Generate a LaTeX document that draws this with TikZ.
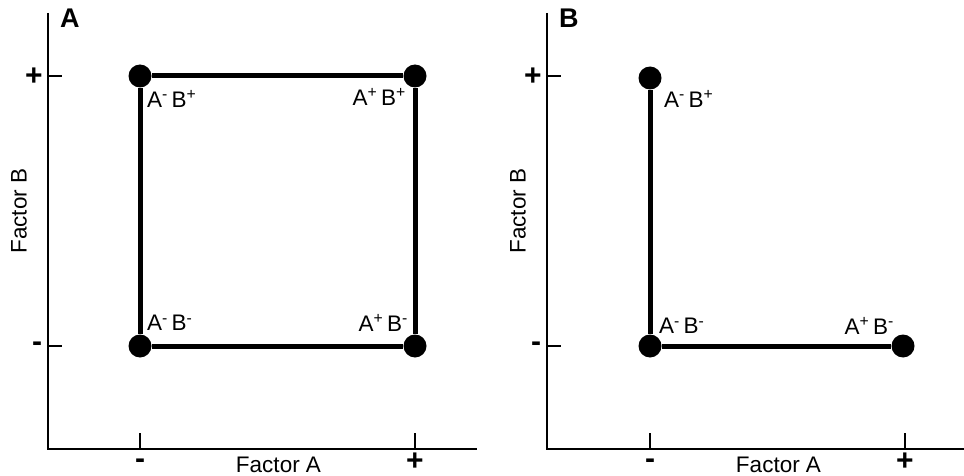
\documentclass[tikz,border=0pt]{standalone}
\usepackage{fontspec}
\setmainfont{Liberation Sans}
\usetikzlibrary{positioning}
\definecolor{ink}{HTML}{000000}
\tikzset{
  axis/.style={draw=ink,line width=2pt},
  link/.style={draw=ink,line width=5pt},
  pt/.style={circle,fill=ink,minimum size=23pt,inner sep=0pt},
  lab/.style={font=\fontsize{22.5}{25}\selectfont,text=ink,inner sep=0pt},
  sgn/.style={font=\bfseries\fontsize{30}{32}\selectfont,text=ink,inner sep=0pt},
  panel/.style={font=\bfseries\fontsize{27}{30}\selectfont,text=ink,inner sep=0pt},
}
\newcommand{\lvl}[2]{A\textsuperscript{#1}\,B\textsuperscript{#2}}

\begin{document}
\begin{tikzpicture}[x=1pt,y=-1pt]
  \useasboundingbox (0,0) rectangle (964,476);
  % axes, panel A and panel B
  \foreach \p/\ax/\xe/\xl/\xh in {A/48/477/140/415,B/547/964/650/905} {
    \coordinate (top\p) at (\ax,13);
    \coordinate (end\p) at (\xe,449);
    \draw[axis] (top\p) |- (end\p);
    \draw[axis] (\ax,76) -- ++(14,0);
    \draw[axis] (\ax,346) -- ++(14,0);
    \draw[axis] (\xl,449) -- ++(0,-16);
    \draw[axis] (\xh,449) -- ++(0,-16);
    \node[sgn] (yp\p) at (\ax-14,77) {+};
    \node[sgn] (ym\p) at (\ax-11,347) {-};
    \node[sgn] (xm\p) at (\xl,464) {-};
    \node[sgn] (xp\p) at (\xh,462) {+};
    \node[lab] (fa\p) at ({(\xl+\xh)/2+1},465) {Factor A};
    \node[lab,rotate=90] (fb\p) at (\ax-29,211) {Factor B};
    \node[panel,anchor=north west] (lt\p) at (\ax+12,9) {\p};
  }
  % panel A: full square
  \node[pt] (amb) at (140,346) {};
  \node[pt] (apb) at (415,346) {};
  \node[pt] (amp) at (140,76) {};
  \node[pt] (app) at (415,76) {};
  \draw[link] (amb) -- (apb) -- (app) -- (amp) -- (amb);
  \node[lab,anchor=west] at (147,99) {\lvl{-}{+}};
  \node[lab,anchor=east] at (406,97) {\lvl{+}{+}};
  \node[lab,anchor=west] at (147,323) {\lvl{-}{-}};
  \node[lab,anchor=east] at (408,323) {\lvl{+}{-}};
  % panel B: one factor at a time
  \node[pt] (bmb) at (650,346) {};
  \node[pt] (bpb) at (903,346) {};
  \node[pt] (bmp) at (650,78) {};
  \draw[link] (bmp) -- (bmb) -- (bpb);
  \node[lab,anchor=west] at (664,99) {\lvl{-}{+}};
  \node[lab,anchor=west] at (659,326) {\lvl{-}{-}};
  \node[lab,anchor=east] at (894,326) {\lvl{+}{-}};
\end{tikzpicture}
\end{document}
